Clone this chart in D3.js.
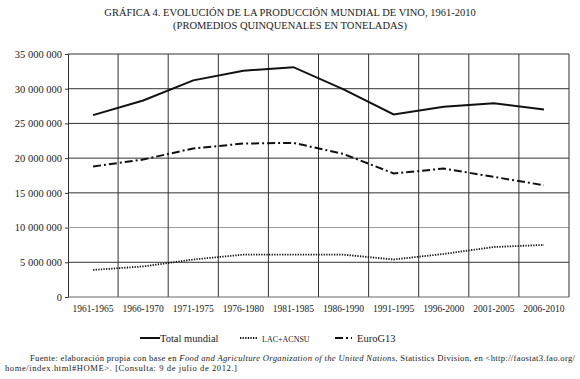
<!DOCTYPE html>
<html>
<head>
<meta charset="utf-8">
<script src="https://cdn.jsdelivr.net/npm/d3@7"></script>
<style>
  body { margin: 0; background: #fff; }
  text { font-family: "Liberation Serif", "DejaVu Serif", serif; fill: #222; }
</style>
</head>
<body>
<div id="chart"></div>
<script>
const periods = ['1961-1965', '1966-1970', '1971-1975', '1976-1980', '1981-1985',
  '1986-1990', '1991-1995', '1996-2000', '2001-2005', '2006-2010'];
const totalMundial = [26200000, 28300000, 31200000, 32600000, 33100000,
  29900000, 26300000, 27400000, 27900000, 27000000];
const lacAcnsu = [3900000, 4400000, 5400000, 6100000, 6100000,
  6100000, 5400000, 6200000, 7200000, 7500000];
const euroG13 = [18800000, 19800000, 21400000, 22100000, 22200000,
  20600000, 17800000, 18500000, 17300000, 16100000];
const yTicks = [0, 5000000, 10000000, 15000000, 20000000, 25000000, 30000000, 35000000];

const series = [
  { name: 'Total mundial', values: totalMundial, dash: null, width: 2 },
  { name: 'LAC+ACNSU', values: lacAcnsu, dash: '1.3,1.3', width: 1.8 },
  { name: 'EuroG13', values: euroG13, dash: '8,3,2,3', width: 2 }
];

const width = 580, height = 379;
const margin = { top: 54, right: 11, bottom: 82, left: 68 };
const serif = '"Liberation Serif", "DejaVu Serif", serif';

const svg = d3.select('#chart')
  .append('svg')
    .attr('width', width)
    .attr('height', height)
    .attr('font-family', serif);

const x = d3.scaleBand()
  .domain(periods)
  .range([margin.left, width - margin.right])
  .padding(0);

const y = d3.scaleLinear()
  .domain([0, 35000000])
  .range([height - margin.bottom, margin.top]);

const fmt = d3.formatLocale({ decimal: ',', thousands: '\u00a0', grouping: [3], currency: ['', ''] }).format(',d');

// horizontal grid + y labels
svg.append('g')
  .attr('transform', `translate(${margin.left},0)`)
  .call(d3.axisLeft(y).tickValues(yTicks).tickFormat(fmt).tickSize(3).tickPadding(3))
  .attr('font-family', serif)
  .call(g => g.select('.domain').attr('stroke', '#333'))
  .call(g => g.selectAll('.tick line').attr('stroke', '#333'))
  .call(g => g.selectAll('.tick text').attr('font-size', 10.5).attr('fill', '#222'));

svg.append('g')
  .selectAll('line')
  .data(yTicks.filter(d => d > 0))
  .enter()
  .append('line')
    .attr('x1', margin.left)
    .attr('x2', width - margin.right)
    .attr('y1', d => y(d))
    .attr('y2', d => y(d))
    .attr('stroke', d => d === 10000000 ? '#999' : '#333')
    .attr('stroke-width', 1);

// vertical grid at category boundaries
svg.append('g')
  .selectAll('line')
  .data(periods.slice(1).concat(['end']))
  .enter()
  .append('line')
    .attr('x1', (d, i) => i < periods.length - 1 ? x(d) : width - margin.right)
    .attr('x2', (d, i) => i < periods.length - 1 ? x(d) : width - margin.right)
    .attr('y1', y(35000000))
    .attr('y2', y(0))
    .attr('stroke', '#333');

// bottom axis
svg.append('line')
  .attr('x1', margin.left)
  .attr('x2', width - margin.right)
  .attr('y1', y(0))
  .attr('y2', y(0))
  .attr('stroke', '#666');

svg.append('g')
  .selectAll('text')
  .data(periods)
  .enter()
  .append('text')
    .attr('x', d => x(d) + x.bandwidth() / 2)
    .attr('y', y(0) + 15)
    .attr('text-anchor', 'middle')
    .attr('font-size', 9.5)
    .text(d => d);

// lines
const line = d3.line()
  .x((d, i) => x(periods[i]) + x.bandwidth() / 2)
  .y(d => y(d));

svg.append('g')
  .selectAll('path')
  .data(series)
  .enter()
  .append('path')
    .attr('d', d => line(d.values))
    .attr('fill', 'none')
    .attr('stroke', '#111')
    .attr('stroke-width', d => d.width)
    .attr('stroke-dasharray', d => d.dash);

// legend
const legendPos = [140, 240, 335];
const legend = svg.append('g')
  .selectAll('g')
  .data(series)
  .enter()
  .append('g')
    .attr('transform', (d, i) => `translate(${legendPos[i]},338)`);

legend.append('line')
  .attr('x1', 0)
  .attr('x2', (d, i) => i === 0 ? 20 : 17)
  .attr('stroke', '#111')
  .attr('stroke-width', d => d.width)
  .attr('stroke-dasharray', d => d.dash);

legend.append('text')
  .attr('x', (d, i) => i === 0 ? 20 : 22)
  .attr('y', 4)
  .attr('font-size', (d, i) => i === 1 ? 8 : 10.5)
  .text(d => d.name);

// title
const title = svg.append('text')
  .attr('x', 290)
  .attr('text-anchor', 'middle')
  .attr('font-size', 10.5);
title.append('tspan').attr('x', 290).attr('y', 16).text('GRÁFICA 4. EVOLUCIÓN DE LA PRODUCCIÓN MUNDIAL DE VINO, 1961-2010');
title.append('tspan').attr('x', 290).attr('y', 29).text('(PROMEDIOS QUINQUENALES EN TONELADAS)');

// source note
const note1 = svg.append('text')
  .attr('x', 30)
  .attr('y', 361)
  .attr('font-size', 8.6)
  .attr('textLength', 545)
  .attr('lengthAdjust', 'spacing');
note1.append('tspan').text('Fuente: elaboración propia con base en ');
note1.append('tspan').attr('font-style', 'italic').text('Food and Agriculture Organization of the United Nations');
note1.append('tspan').text(', Statistics Division, en <http://faostat3.fao.org/');
svg.append('text')
  .attr('x', 5)
  .attr('y', 371)
  .attr('font-size', 8.6)
  .attr('textLength', 232)
  .attr('lengthAdjust', 'spacing')
  .text('home/index.html#HOME>. [Consulta: 9 de julio de 2012.]');
</script>
</body>
</html>
